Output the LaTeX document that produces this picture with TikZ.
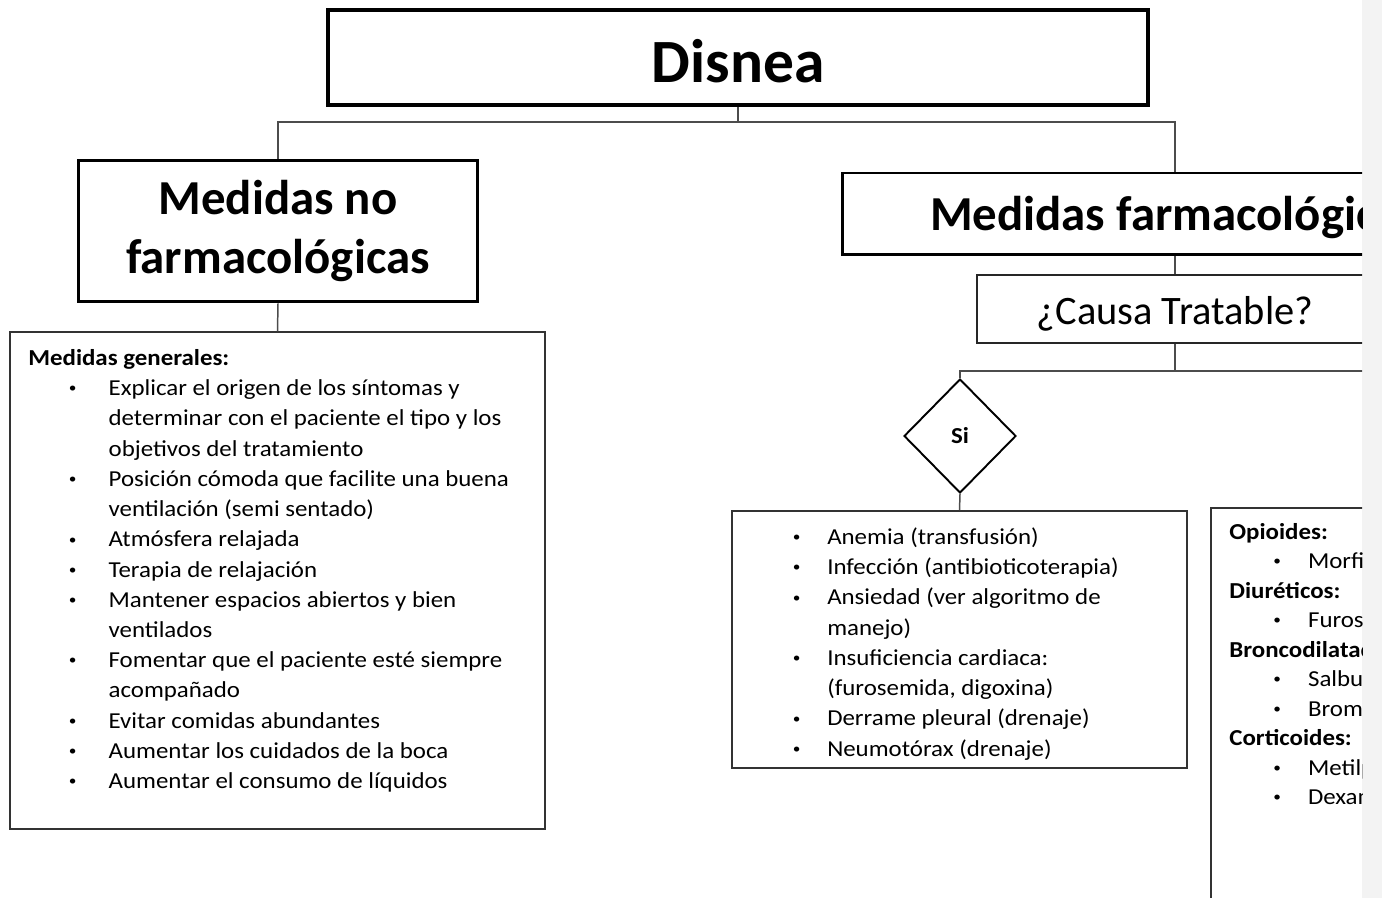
\documentclass[tikz,border=0pt]{standalone}
\usepackage{fontspec}
\setmainfont{Carlito}
\newfontfamily\listfont{Carlito}[FakeStretch=1.09]
\usepackage{tikz}
\usetikzlibrary{shapes.geometric, positioning}
\definecolor{stripgray}{RGB}{243,243,243}
\tikzstyle{titlebox} = [rectangle, draw=black, line width=2.3pt, minimum width=16.4cm, minimum height=1.9cm, text height=29pt, text depth=0pt, font=\bfseries\fontsize{35}{42}\selectfont]
\tikzstyle{levelbox} = [rectangle, draw=black, line width=1.7pt, align=center, font=\bfseries\fontsize{27.8}{34}\selectfont]
\tikzstyle{questionbox} = [rectangle, draw=black!85, line width=0.9pt, minimum width=7.92cm, minimum height=1.36cm, text height=20pt, text depth=2pt, font=\fontsize{23}{28}\selectfont]
\tikzstyle{decision} = [diamond, draw=black, line width=1.1pt, aspect=1, inner sep=0pt, minimum width=2.24cm, minimum height=2.28cm, font=\listfont\bfseries\fontsize{13}{15}\selectfont]
\tikzstyle{listbox} = [rectangle, draw=black!80, line width=0.9pt]
\tikzstyle{listtext} = [inner sep=0pt, align=left, anchor=north west, font=\listfont\fontsize{13}{17.2}\selectfont]
\tikzstyle{conn} = [draw=black!70, line width=0.85pt]
\newcommand{\dotb}{\raisebox{1.6pt}{\fontsize{8}{8}\selectfont\textbullet}}
\newcommand{\bul}{\hspace*{23pt}\makebox[22.7pt][l]{\dotb}}
\newcommand{\cnt}{\hspace*{45.7pt}}
\newcommand{\sbul}{\hspace*{1.5pt}\makebox[19.5pt][l]{\dotb}}
\newcommand{\scnt}{\hspace*{21pt}}
\newcommand{\fbul}{\hspace*{25pt}\makebox[19.8pt][l]{\dotb}}
\begin{document}
\begin{tikzpicture}[x=0.02cm, y=-0.02cm]
\useasboundingbox (0,0) rectangle (1382,898);
\fill [stripgray] (1362,0) rectangle (1382,898);
\begin{scope}
\clip (0,0) rectangle (1362,898);
% cajas principales
\node (disnea) [titlebox] at (738,57.5) {Disnea};
\node (nofarm) [levelbox, minimum width=8cm, minimum height=2.84cm] at (278,231) {Medidas no\\farmacológicas};
\node (farm) [levelbox, minimum width=13.32cm, minimum height=1.64cm, text height=22pt, text depth=3pt] at (1175,214) {Medidas farmacológicas};
\node (causa) [questionbox] at (1175,309) {¿Causa Tratable?};
\node (si) [decision] at (960,436) {Si};
\coordinate (nocausa) at (1400,370);
% cajas de listas
\node (generales) [listbox, minimum width=10.7cm, minimum height=9.94cm] at (277.5,580.5) {};
\node (tratables) [listbox, minimum width=9.1cm, minimum height=5.14cm] at (959.5,639.5) {};
\node (farmacos) [listbox, minimum width=9.1cm, minimum height=8.64cm] at (1438.5,724) {};
% textos de las listas
\node (generalestxt) [listtext] at (28,344) {\strut\textbf{Medidas generales:}\\
\bul Explicar el origen de los síntomas y\\
\cnt determinar con el paciente el tipo y los\\
\cnt objetivos del tratamiento\\
\bul Posición cómoda que facilite una buena\\
\cnt ventilación (semi sentado)\\
\bul Atmósfera relajada\\
\bul Terapia de relajación\\
\bul Mantener espacios abiertos y bien\\
\cnt ventilados\\
\bul Fomentar que el paciente esté siempre\\
\cnt acompañado\\
\bul Evitar comidas abundantes\\
\bul Aumentar los cuidados de la boca\\
\bul Aumentar el consumo de líquidos};
\node (tratablestxt) [listtext] at (790,523) {\strut\sbul Anemia (transfusión)\\
\sbul Infección (antibioticoterapia)\\
\sbul Ansiedad (ver algoritmo de\\
\scnt manejo)\\
\sbul Insuficiencia cardiaca:\\
\scnt (furosemida, digoxina)\\
\sbul Derrame pleural (drenaje)\\
\sbul Neumotórax (drenaje)};
\node (farmacostxt) [listtext, font=\listfont\fontsize{13}{16.8}\selectfont] at (1229,518) {\strut\textbf{Opioides:}\\
\fbul Morfina\\
\textbf{Diuréticos:}\\
\fbul Furosemida\\
\textbf{Broncodilatadores:}\\
\fbul Salbutamol\\
\fbul Bromuro de ipratropio\\
\textbf{Corticoides:}\\
\fbul Metilprednisolona\\
\fbul Dexametasona};
% conectores
\draw [conn] (disnea.south) -- ++(0,15) coordinate (ramal);
\draw [conn] (ramal) -| (nofarm.north);
\draw [conn] (ramal) -| (farm.north);
\draw [conn] (nofarm.south) -- (generales.north);
\draw [conn] (farm.south) -- (causa.north);
\draw [conn] (causa.south) -- ++(0,27) coordinate (cruce);
\draw [conn] (cruce) -| (si.north);
\draw [conn] (cruce) -- (cruce -| nocausa);
\draw [conn] (si.south) -- (tratables.north);
\end{scope}
\end{tikzpicture}
\end{document}
